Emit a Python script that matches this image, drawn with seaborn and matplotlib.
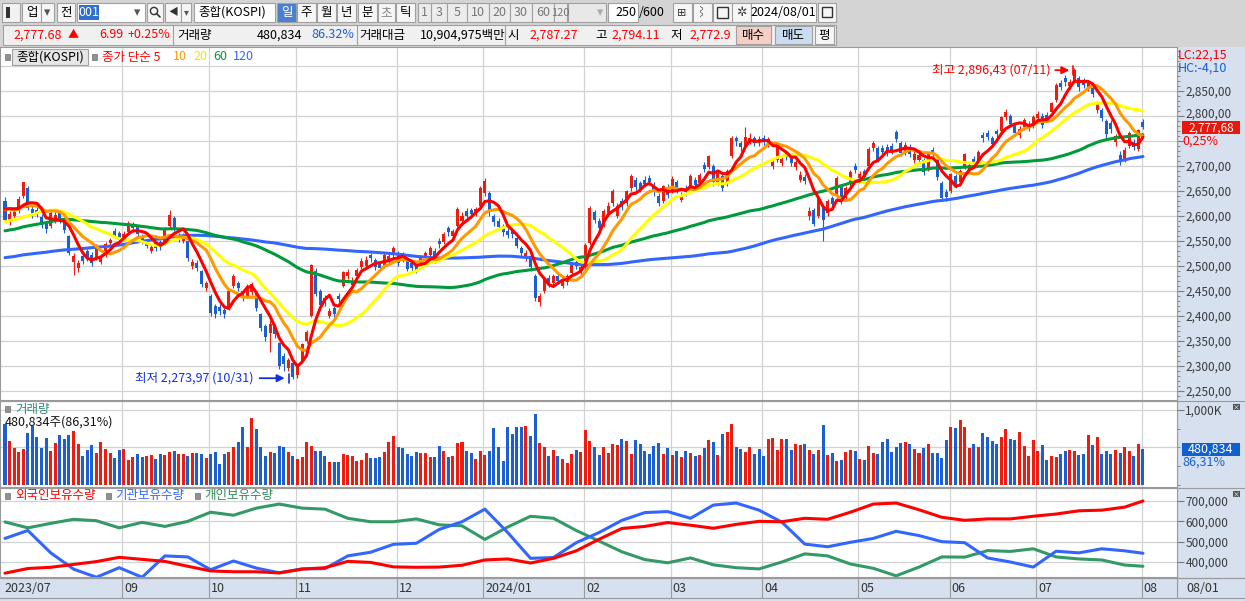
import numpy as np
import pandas as pd
import seaborn as sns
import matplotlib.pyplot as plt
from matplotlib.patches import Rectangle
from matplotlib.transforms import ScaledTranslation
from matplotlib.ticker import FixedLocator, MultipleLocator, FuncFormatter

# closes before the visible window, only used to warm up the 60/120 day averages
warmup_closes = [
    2450, 2469, 2480, 2438, 2452, 2484, 2482, 2469, 2453, 2466, 2428, 2475, 2451, 2455, 2459, 2418, 2439, 2424, 2403, 2413,
    2422, 2432, 2463, 2463, 2432, 2433, 2395, 2411, 2349, 2380, 2378, 2396, 2379, 2388, 2417, 2424, 2415, 2400, 2434, 2444, 2453, 2477,
    2481, 2495, 2495, 2490, 2491, 2512, 2548, 2551, 2550, 2571, 2576, 2572, 2575, 2563, 2544, 2524, 2489, 2485, 2496, 2502,
    2524, 2501, 2501, 2509, 2510, 2497, 2491, 2475, 2479, 2480, 2495, 2515, 2538, 2557, 2566, 2567, 2555, 2559, 2586, 2577,
    2569, 2601, 2615, 2616, 2610, 2641, 2629, 2638, 2619, 2609, 2626, 2610, 2605, 2583, 2581, 2570, 2582, 2582, 2564, 2550, 2564,
    2602, 2593, 2579, 2556, 2527, 2521, 2562, 2575, 2592, 2628, 2619, 2608, 2608, 2600, 2610, 2629, 2636,
]

# daily candles 2023/07/26 .. 2024/08/01 (250 sessions)
closes = [
    2592, 2604, 2608, 2633, 2667, 2616, 2605, 2603, 2581, 2574,
    2605, 2602, 2591, 2571, 2526, 2520, 2505, 2509, 2516, 2506,
    2538, 2519, 2543, 2552, 2561, 2556, 2564, 2585, 2582, 2563,
    2548, 2548, 2537, 2535, 2537, 2573, 2601, 2575, 2559, 2560,
    2515, 2508, 2496, 2463, 2465, 2406, 2404, 2409, 2403, 2450,
    2480, 2456, 2436, 2460, 2463, 2416, 2375, 2357, 2384, 2363,
    2299, 2303, 2311, 2278, 2302, 2343, 2368, 2502, 2444, 2422,
    2427, 2410, 2404, 2433, 2487, 2488, 2470, 2491, 2510, 2512,
    2515, 2497, 2496, 2522, 2520, 2535, 2505, 2515, 2494, 2495,
    2492, 2518, 2525, 2535, 2511, 2544, 2564, 2567, 2569, 2614,
    2600, 2600, 2603, 2614, 2655, 2670, 2607, 2587, 2578, 2568,
    2561, 2563, 2540, 2525, 2526, 2498, 2436, 2440, 2473, 2464,
    2479, 2470, 2470, 2479, 2501, 2499, 2497, 2542, 2615, 2591,
    2576, 2610, 2620, 2650, 2620, 2618, 2649, 2680, 2658, 2653,
    2664, 2668, 2647, 2625, 2659, 2642, 2674, 2649, 2641, 2648,
    2680, 2661, 2682, 2694, 2719, 2667, 2686, 2656, 2690, 2755,
    2749, 2738, 2757, 2755, 2746, 2747, 2748, 2753, 2707, 2742,
    2714, 2718, 2705, 2707, 2682, 2670, 2610, 2584, 2635, 2592,
    2629, 2623, 2676, 2629, 2656, 2687, 2692, 2684, 2677, 2734,
    2745, 2712, 2728, 2727, 2730, 2753, 2725, 2742, 2724, 2723,
    2722, 2688, 2723, 2723, 2677, 2635, 2637, 2683, 2662, 2690,
    2723, 2701, 2705, 2728, 2755, 2758, 2744, 2764, 2797, 2808,
    2784, 2765, 2774, 2792, 2784, 2798, 2804, 2781, 2794, 2825,
    2862, 2858, 2867, 2868, 2891, 2857, 2861, 2866, 2844, 2824,
    2795, 2764, 2774, 2759, 2711, 2732, 2766, 2738, 2771, 2778,
]
opens = [
    2630, 2590, 2600, 2612, 2640, 2655, 2614, 2612, 2598, 2585,
    2580, 2590, 2608, 2590, 2560, 2508, 2495, 2520, 2530, 2522,
    2515, 2508, 2522, 2546, 2570, 2566, 2558, 2568, 2576, 2578,
    2560, 2540, 2530, 2545, 2548, 2545, 2580, 2596, 2552, 2550,
    2550, 2500, 2506, 2490, 2455, 2440, 2420, 2418, 2412, 2415,
    2460, 2466, 2450, 2440, 2448, 2446, 2404, 2380, 2365, 2378,
    2345, 2320, 2296, 2305, 2282, 2310, 2350, 2400, 2490, 2450,
    2436, 2400, 2415, 2440, 2460, 2480, 2462, 2480, 2498, 2500,
    2522, 2512, 2506, 2500, 2510, 2522, 2525, 2522, 2510, 2505,
    2500, 2500, 2516, 2522, 2530, 2550, 2548, 2575, 2560, 2580,
    2590, 2610, 2612, 2605, 2620, 2645, 2645, 2600, 2590, 2580,
    2570, 2570, 2555, 2535, 2515, 2520, 2480, 2428, 2450, 2476,
    2465, 2480, 2460, 2468, 2485, 2508, 2488, 2498, 2545, 2608,
    2590, 2582, 2605, 2625, 2600, 2630, 2625, 2655, 2672, 2665,
    2672, 2676, 2662, 2640, 2630, 2656, 2650, 2668, 2632, 2656,
    2652, 2672, 2665, 2702, 2698, 2700, 2668, 2680, 2665, 2720,
    2756, 2746, 2740, 2748, 2756, 2754, 2756, 2744, 2700, 2712,
    2705, 2726, 2716, 2698, 2672, 2678, 2600, 2612, 2600, 2620,
    2605, 2636, 2640, 2660, 2636, 2665, 2700, 2676, 2690, 2700,
    2736, 2735, 2736, 2738, 2740, 2768, 2745, 2728, 2738, 2712,
    2712, 2712, 2695, 2732, 2712, 2665, 2648, 2650, 2680, 2668,
    2698, 2692, 2714, 2710, 2762, 2766, 2756, 2770, 2770, 2798,
    2800, 2780, 2762, 2778, 2776, 2780, 2796, 2800, 2802, 2808,
    2832, 2866, 2876, 2860, 2870, 2876, 2870, 2856, 2856, 2812,
    2812, 2790, 2786, 2748, 2722, 2714, 2740, 2748, 2734, 2787,
]
highs = [
    2638, 2610, 2615, 2640, 2668, 2660, 2620, 2618, 2604, 2590,
    2610, 2608, 2612, 2594, 2562, 2526, 2512, 2526, 2534, 2528,
    2544, 2524, 2548, 2556, 2575, 2570, 2570, 2590, 2588, 2582,
    2564, 2552, 2542, 2550, 2552, 2578, 2612, 2600, 2566, 2566,
    2552, 2514, 2512, 2492, 2470, 2444, 2424, 2424, 2416, 2454,
    2484, 2470, 2452, 2464, 2468, 2450, 2406, 2384, 2392, 2384,
    2348, 2326, 2316, 2310, 2306, 2346, 2372, 2504, 2496, 2454,
    2442, 2416, 2420, 2446, 2490, 2494, 2478, 2496, 2516, 2520,
    2526, 2516, 2510, 2526, 2528, 2540, 2530, 2528, 2514, 2510,
    2506, 2522, 2530, 2540, 2536, 2556, 2568, 2580, 2574, 2618,
    2608, 2616, 2616, 2618, 2660, 2676, 2650, 2604, 2596, 2584,
    2575, 2574, 2560, 2540, 2532, 2524, 2484, 2446, 2478, 2482,
    2484, 2486, 2476, 2484, 2506, 2512, 2502, 2546, 2620, 2612,
    2596, 2614, 2628, 2654, 2626, 2636, 2652, 2684, 2678, 2670,
    2680, 2682, 2668, 2646, 2662, 2664, 2680, 2672, 2648, 2662,
    2684, 2678, 2686, 2708, 2722, 2704, 2690, 2684, 2694, 2760,
    2760, 2750, 2778, 2766, 2760, 2760, 2762, 2758, 2716, 2746,
    2720, 2730, 2722, 2712, 2690, 2684, 2618, 2616, 2640, 2624,
    2634, 2640, 2680, 2664, 2660, 2692, 2706, 2690, 2694, 2738,
    2750, 2740, 2742, 2744, 2746, 2772, 2750, 2748, 2744, 2730,
    2728, 2716, 2728, 2738, 2716, 2670, 2654, 2686, 2684, 2694,
    2726, 2708, 2720, 2732, 2768, 2772, 2760, 2774, 2800, 2814,
    2804, 2784, 2780, 2796, 2790, 2802, 2810, 2806, 2808, 2828,
    2866, 2872, 2882, 2874, 2896, 2880, 2876, 2872, 2862, 2830,
    2816, 2794, 2792, 2764, 2730, 2738, 2770, 2754, 2774, 2794,
]
lows = [
    2588, 2582, 2594, 2606, 2636, 2612, 2596, 2598, 2575, 2566,
    2576, 2585, 2586, 2566, 2522, 2482, 2488, 2504, 2510, 2500,
    2512, 2504, 2518, 2540, 2556, 2550, 2552, 2565, 2570, 2558,
    2544, 2535, 2526, 2530, 2532, 2542, 2576, 2570, 2548, 2545,
    2510, 2494, 2490, 2458, 2450, 2400, 2396, 2402, 2396, 2412,
    2455, 2450, 2430, 2436, 2442, 2410, 2370, 2350, 2328, 2356,
    2294, 2290, 2290, 2274, 2276, 2306, 2345, 2398, 2440, 2418,
    2420, 2396, 2398, 2428, 2458, 2474, 2456, 2476, 2494, 2496,
    2508, 2492, 2490, 2496, 2505, 2516, 2500, 2508, 2490, 2490,
    2486, 2496, 2512, 2518, 2506, 2536, 2544, 2560, 2555, 2576,
    2585, 2594, 2596, 2600, 2616, 2640, 2600, 2580, 2572, 2560,
    2555, 2556, 2535, 2520, 2510, 2490, 2430, 2420, 2446, 2458,
    2460, 2464, 2455, 2462, 2480, 2494, 2482, 2494, 2542, 2586,
    2570, 2578, 2600, 2620, 2595, 2612, 2620, 2650, 2652, 2648,
    2658, 2662, 2640, 2620, 2626, 2636, 2646, 2645, 2628, 2640,
    2650, 2655, 2660, 2688, 2694, 2660, 2662, 2650, 2660, 2716,
    2740, 2730, 2736, 2744, 2740, 2740, 2742, 2738, 2694, 2708,
    2700, 2712, 2700, 2692, 2668, 2664, 2592, 2580, 2596, 2550,
    2600, 2618, 2636, 2624, 2630, 2660, 2686, 2670, 2672, 2696,
    2730, 2708, 2720, 2720, 2724, 2748, 2720, 2722, 2718, 2706,
    2706, 2682, 2690, 2716, 2672, 2630, 2630, 2645, 2656, 2664,
    2694, 2688, 2700, 2706, 2748, 2752, 2738, 2756, 2766, 2792,
    2778, 2760, 2756, 2772, 2770, 2776, 2790, 2776, 2788, 2804,
    2828, 2852, 2860, 2854, 2866, 2850, 2856, 2850, 2838, 2806,
    2790, 2754, 2766, 2740, 2702, 2708, 2736, 2732, 2730, 2773,
]
volume_k = [
    810, 585, 490, 440, 480, 690, 785, 640, 490, 625,
    450, 560, 665, 615, 665, 720, 545, 385, 465, 530,
    425, 570, 480, 425, 360, 465, 480, 330, 370, 410,
    370, 385, 400, 345, 410, 400, 440, 450, 410, 410,
    385, 425, 425, 410, 360, 410, 440, 280, 410, 440,
    505, 570, 770, 505, 890, 745, 505, 385, 440, 425,
    520, 505, 440, 385, 345, 370, 570, 520, 450, 450,
    385, 305, 305, 305, 410, 400, 385, 320, 330, 425,
    360, 360, 370, 440, 570, 650, 505, 490, 410, 385,
    440, 425, 425, 370, 370, 520, 450, 370, 385, 560,
    570, 450, 425, 345, 450, 400, 450, 760, 505, 320,
    770, 680, 770, 770, 785, 650, 945, 560, 505, 385,
    465, 385, 345, 290, 410, 465, 440, 730, 585, 505,
    400, 505, 425, 545, 530, 610, 585, 410, 600, 545,
    450, 410, 520, 560, 410, 490, 400, 450, 370, 450,
    425, 385, 400, 490, 600, 570, 400, 680, 705, 810,
    505, 480, 440, 505, 410, 480, 385, 610, 625, 465,
    610, 610, 465, 545, 530, 545, 465, 410, 465, 800,
    400, 425, 320, 330, 440, 465, 450, 345, 330, 520,
    425, 410, 570, 610, 440, 505, 560, 570, 545, 480,
    425, 490, 545, 425, 425, 360, 600, 770, 760, 865,
    770, 490, 545, 505, 690, 640, 585, 545, 640, 745,
    610, 600, 705, 520, 385, 600, 450, 530, 330, 385,
    370, 410, 450, 465, 450, 400, 410, 665, 530, 640,
    410, 450, 410, 465, 425, 505, 450, 385, 545, 481,
]

# holdings (thousand shares), read every 5th session
hold_idx = list(range(0, 250, 5)) + [249]
foreign_k = [345, 368, 374, 388, 402, 423, 413, 403, 379, 356, 352, 352, 346, 365, 372, 403, 398, 376, 374,
             375, 384, 410, 415, 395, 418, 455, 512, 565, 575, 594, 581, 566, 585, 600, 598, 615, 610,
             645, 685, 690, 657, 620, 605, 612, 612, 625, 636, 652, 655, 670, 700]
inst_k = [516, 555, 445, 365, 325, 372, 325, 430, 425, 362, 405, 370, 347, 366, 367, 430, 448, 487, 492,
          560, 598, 660, 545, 418, 422, 495, 545, 605, 643, 648, 615, 680, 690, 655, 596, 488, 475,
          497, 516, 551, 530, 500, 495, 420, 400, 375, 453, 445, 465, 455, 443]
indiv_k = [597, 568, 590, 610, 603, 568, 595, 575, 600, 645, 630, 665, 685, 665, 660, 615, 598, 598, 612,
           583, 578, 511, 572, 625, 615, 555, 503, 450, 412, 396, 420, 386, 372, 366, 400, 440, 430,
           390, 369, 332, 375, 425, 424, 456, 452, 465, 425, 415, 410, 385, 379]

month_idx = [0, 26, 45, 64, 86, 105, 127, 146, 166, 187, 207, 226, 249]
month_lbl = ['2023/07', '09', '10', '11', '12', '2024/01', '02', '03', '04', '05', '06', '07', '08']

ma_periods = [120, 60, 20, 10, 5]
ma_colors = {5: '#ff0000', 10: '#ff9900', 20: '#ffff00', 60: '#009a3a', 120: '#3366ff'}

high_note = '최고 2,896,43 (07/11)'
low_note = '최저 2,273,97 (10/31)'

RED, BLUE = '#ec1c10', '#1c5fd2'
GRID = '#d2d2d2'
PANEL = '#d6e0ee'

sns.set_style('white')
plt.rcParams['font.family'] = ['Noto Sans CJK KR', 'DejaVu Sans']

W, H = 1245, 601
fig = plt.figure(figsize=(W / 100, H / 100), dpi=100)


def frect(x0, y0, x1, y1):
    return [x0 / W, 1 - y1 / H, (x1 - x0) / W, (y1 - y0) / H]


def i_of(px):
    return (px - 5) / 4.57


# pixel overlays (background and foreground)
bg = fig.add_axes([0, 0, 1, 1])
bg.set_xlim(0, W); bg.set_ylim(H, 0); bg.set_axis_off(); bg.set_zorder(-5)

ax_p = fig.add_axes(frect(0, 47, 1177, 400))
ax_v = fig.add_axes(frect(0, 401, 1177, 487))
ax_h = fig.add_axes(frect(0, 488, 1177, 577))

fg = fig.add_axes([0, 0, 1, 1])
fg.set_xlim(0, W); fg.set_ylim(H, 0); fg.set_axis_off(); fg.set_zorder(10)


def box(a, x0, y0, x1, y1, fc, ec='#a0a0a0', lw=0.8):
    a.add_patch(Rectangle((x0, y0), x1 - x0, y1 - y0, facecolor=fc, edgecolor=ec, lw=lw))


def txt(a, x, y, s, color='#000000', size=9, ha='left', **kw):
    a.text(x, y, s, color=color, fontsize=size, ha=ha, va='center', **kw)


# ---- backgrounds ----
box(bg, 0, 0, W, 47, '#d4d4d4', ec='none')
box(bg, 1177, 47, W, 601, PANEL, ec='none')
box(bg, 0, 578, W, 601, PANEL, ec='none')
bg.plot([0, W], [578, 578], color='#9a9a9a', lw=0.8)
bg.plot([0, W], [598, 598], color='#9a9a9a', lw=0.8)

x = np.arange(len(closes))
o = np.array(opens, float); c = np.array(closes, float)
hi = np.array(highs, float); lo = np.array(lows, float)
col = np.where(c >= o, RED, BLUE)

all_c = pd.Series(warmup_closes + closes, dtype=float)
nw = len(warmup_closes)

xlim = (i_of(0), i_of(1177))
grid_i = [m - 0.3 for m in month_idx[1:]]

for a in (ax_p, ax_v, ax_h):
    a.set_xlim(*xlim)
    a.set_facecolor('white')
    for s in a.spines.values():
        s.set_color('#9a9a9a'); s.set_linewidth(0.8)
    a.set_xticks([])
    a.yaxis.tick_right()
    a.tick_params(axis='y', which='major', length=5, width=0.8, color='#7a7a7a',
                  labelsize=8.5, labelcolor='#3a3a3a', pad=1)
    a.tick_params(axis='y', which='minor', length=2.5, width=0.6, color='#7a7a7a')
    for g in grid_i:
        a.axvline(g, color=GRID, lw=0.9, zorder=0)

# ---- price panel ----
ax_p.set_ylim(2231.4, 2937.4)
ax_p.yaxis.set_major_locator(FixedLocator(np.arange(2250, 2851, 50)))
ax_p.yaxis.set_minor_locator(MultipleLocator(10))
# the 2,750 label sits under the change-rate text, as on the reference
ax_p.yaxis.set_major_formatter(FuncFormatter(lambda v, _: '' if round(v) == 2750 else f'{v:,.0f},00'))
for lv in np.arange(2250, 2901, 50):
    ax_p.axhline(lv, color=GRID, lw=0.9, zorder=0)

ax_p.vlines(x, lo, hi, colors=col, lw=0.8, zorder=3)
ax_p.bar(x, np.maximum(np.abs(c - o), 2), bottom=np.minimum(o, c), width=0.66,
         color=col, lw=0, zorder=3)

for p in ma_periods:
    ma = all_c.rolling(p, min_periods=1).mean().to_numpy()[nw:]
    sns.lineplot(x=x, y=ma, ax=ax_p, color=ma_colors[p], lw=2.2, zorder=4)
ax_p.set_xlabel(''); ax_p.set_ylabel('')

imax = int(np.argmax(hi)); imin = int(np.argmin(lo))
yt = 2891
ax_p.text(imax - 5.2, yt, high_note, color='#ff0000', fontsize=9, ha='right', va='center', zorder=6)
ax_p.annotate('', xy=(imax - 0.5, yt), xytext=(imax - 4.8, yt),
              arrowprops=dict(arrowstyle='-|>', color='#ff0000', lw=1.3, mutation_scale=11), zorder=6)
ax_p.plot([imax - 0.4, imax - 0.4], [yt - 9, yt + 9], color='#ff0000', lw=1.2, zorder=6)
yb = 2275
ax_p.text(imin - 8.6, yb, low_note, color='#1030e0', fontsize=9, ha='right', va='center', zorder=6)
ax_p.annotate('', xy=(imin - 1.2, yb), xytext=(imin - 7.9, yb),
              arrowprops=dict(arrowstyle='-|>', color='#1030e0', lw=1.3, mutation_scale=11), zorder=6)
ax_p.plot([imin - 0.9, imin - 0.9], [yb - 9, yb + 9], color='#1030e0', lw=1.2, zorder=6)

# ---- volume panel ----
ax_v.set_ylim(-26.7, 1120)
ax_v.bar(x, volume_k, width=0.66, color=col, lw=0, zorder=3)
ax_v.yaxis.set_major_locator(FixedLocator([1000]))
ax_v.yaxis.set_minor_locator(FixedLocator([0, 250, 500, 750]))
ax_v.yaxis.set_major_formatter(FuncFormatter(lambda v, _: f'{v:,.0f}K'))
for lv in (500, 1000):
    ax_v.axhline(lv, color=GRID, lw=0.9, zorder=0)

# ---- holdings panel ----
ax_h.set_ylim(326.2, 764)
for lv in (400, 500, 600, 700):
    ax_h.axhline(lv, color=GRID, lw=0.9, zorder=0)
sns.lineplot(x=hold_idx, y=indiv_k, ax=ax_h, color='#339966', lw=2.2, zorder=3)
sns.lineplot(x=hold_idx, y=inst_k, ax=ax_h, color='#3366ff', lw=2.2, zorder=3)
sns.lineplot(x=hold_idx, y=foreign_k, ax=ax_h, color='#ff0000', lw=2.2, zorder=3)
ax_h.yaxis.set_major_locator(FixedLocator([400, 500, 600, 700]))
ax_h.yaxis.set_major_formatter(FuncFormatter(lambda v, _: f'{v * 1000:,.0f}'))
ax_h.set_xlabel(''); ax_h.set_ylabel('')

# ---- bottom date band ----
for g, lbl in zip(month_idx, month_lbl):
    gx = 5 + 4.57 * (g - 0.3)
    if g == 0:
        txt(bg, 4, 589, lbl, color='#333333', size=9)
        continue
    bg.plot([gx, gx], [578, 598], color='#9a9a9a', lw=0.8)
    txt(bg, gx + 2, 589, lbl, color='#333333', size=9)
bg.plot([1177, 1177], [47, 598], color='#9a9a9a', lw=0.8)
txt(bg, 1186, 589, '08/01', color='#333333', size=9)

# ---- panel headers ----
fg.add_patch(Rectangle((5, 54), 5, 6, facecolor='#909090', edgecolor='#707070', lw=0.5))
box(fg, 12, 49, 88, 65, '#e6e6e6')
txt(fg, 50, 57, '종합(KOSPI)', ha='center')
fg.add_patch(Rectangle((92, 54), 5, 6, facecolor='#909090', edgecolor='#707070', lw=0.5))
txt(fg, 102, 57, '종가 단순 5', color='#ff0000')
txt(fg, 173, 57, '10', color='#ff9900')
txt(fg, 193, 57, '20', color='#e8e800')
txt(fg, 213, 57, '60', color='#009a3a')
txt(fg, 233, 57, '120', color='#3366ff')

fg.add_patch(Rectangle((5, 406), 5, 6, facecolor='#909090', edgecolor='#707070', lw=0.5))
txt(fg, 15, 409, '거래량', color='#2e8b7a')
txt(fg, 5, 422, '480,834주(86,31%)', color='#111111')

fg.add_patch(Rectangle((5, 493), 5, 6, facecolor='#909090', edgecolor='#707070', lw=0.5))
txt(fg, 15, 496, '외국인보유수량', color='#ff0000')
fg.add_patch(Rectangle((106, 493), 5, 6, facecolor='#909090', edgecolor='#707070', lw=0.5))
txt(fg, 115, 496, '기관보유수량', color='#3366ff')
fg.add_patch(Rectangle((195, 493), 5, 6, facecolor='#909090', edgecolor='#707070', lw=0.5))
txt(fg, 204, 496, '개인보유수량', color='#2e8b57')

# ---- right band extras ----
txt(fg, 1178, 55, 'LC:22,15', color='#ff0000', size=9)
txt(fg, 1178, 68, 'HC:-4,10', color='#1a5fd0', size=9)
box(fg, 1182, 121, 1240, 134, '#e8180c', ec='none')
txt(fg, 1211, 128, '2,777,68', color='white', size=8.5, ha='center')
txt(fg, 1182, 141, '0,25%', color='#ff0000', size=9)
box(fg, 1182, 443, 1240, 456, '#1060d0', ec='none')
txt(fg, 1211, 449.5, '480,834', color='white', size=9, ha='center')
txt(fg, 1182, 462, '86,31%', color='#1a5fd0', size=9)
for yy in (404, 491):
    box(fg, 1233, yy, 1240, yy + 6, '#555555', ec='none')
    txt(fg, 1236.5, yy + 3, '×', color='white', size=5, ha='center')
for yy in (400.5, 487.5, 577.5):
    fg.plot([0, W], [yy, yy], color='#9a9a9a', lw=0.8)

# ---- toolbar row ----
box(fg, 2, 3, 20, 22, '#f2f2f2')
box(fg, 6, 7, 10, 18, '#333333', ec='none')
box(fg, 22, 3, 41, 22, '#f6f6f6'); txt(fg, 31.5, 12.5, '업', ha='center')
box(fg, 41, 3, 54, 22, '#f6f6f6'); txt(fg, 47.5, 12.5, '▾', ha='center', color='#555555')
box(fg, 57, 3, 75, 22, '#f6f6f6'); txt(fg, 66, 12.5, '전', ha='center')
box(fg, 77, 3, 145, 22, 'white')
box(fg, 79, 5, 99, 20, '#2f6fd0', ec='none'); txt(fg, 89, 12.5, '001', ha='center', color='white')
txt(fg, 137, 12.5, '▾', ha='center', color='#555555')
box(fg, 147, 3, 163, 22, '#f6f6f6')
fg.add_patch(plt.Circle((154, 11), 3.6, fill=False, color='#333333', lw=1))
fg.plot([156.5, 160], [13.5, 17], color='#333333', lw=1.2)
box(fg, 165, 3, 181, 22, '#f6f6f6'); txt(fg, 173, 12.5, '◀', ha='center', size=7, color='#333333')
box(fg, 181, 3, 191, 22, '#f6f6f6'); txt(fg, 186, 12.5, '▾', ha='center', size=7, color='#555555')
box(fg, 194, 3, 275, 22, 'white'); txt(fg, 198, 12.5, '종합(KOSPI)')
for (x0, x1, s, fc, tc) in [(277, 296, '일', '#4b80cc', 'white'), (297, 316, '주', '#f6f6f6', 'black'),
                            (317, 336, '월', '#f6f6f6', 'black'), (337, 356, '년', '#f6f6f6', 'black'),
                            (358, 377, '분', '#f6f6f6', 'black'), (378, 395, '초', '#f6f6f6', '#888888'),
                            (396, 415, '틱', '#f6f6f6', 'black'), (418, 431, '1', '#ececec', '#777777'),
                            (431, 447, '3', '#ececec', '#777777'), (447, 467, '5', '#ececec', '#777777'),
                            (467, 489, '10', '#ececec', '#777777'), (489, 510, '20', '#ececec', '#777777'),
                            (510, 532, '30', '#ececec', '#777777'), (532, 554, '60', '#ececec', '#777777'),
                            (554, 567, '120', '#ececec', '#777777')]:
    box(fg, x0, 3, x1, 22, fc)
    txt(fg, (x0 + x1) / 2, 12.5, s, ha='center', color=tc, size=9 if len(s) < 3 else 8)
box(fg, 568, 3, 606, 22, '#e8e8e8'); txt(fg, 600, 12.5, '▾', ha='center', color='#aaaaaa')
box(fg, 608, 3, 638, 22, 'white'); txt(fg, 636, 12.5, '250', ha='right')
txt(fg, 639, 12.5, '/600')
for x0 in (673, 693, 713, 732):
    box(fg, x0, 3, x0 + 19, 22, '#f6f6f6')
txt(fg, 682, 12.5, '⊞', ha='center', size=8, color='#333333')
txt(fg, 702, 12.5, '⌇', ha='center', size=8, color='#333333')
box(fg, 717, 7, 728, 18, 'none', ec='#333333', lw=1)
txt(fg, 741, 12.5, '✲', ha='center', size=9, color='#444444')
box(fg, 751, 3, 816, 22, 'white'); txt(fg, 783.5, 12.5, '2024/08/01', ha='center')
box(fg, 818, 3, 836, 22, '#f6f6f6')
box(fg, 822, 7, 832, 17, 'none', ec='#333333', lw=1)

# ---- quote row ----
box(fg, 3, 25, 836, 45, '#f0f0f0')
txt(fg, 13, 35, '2,777.68', color='#ff0000')
txt(fg, 68, 35, '▲', color='#ff0000', size=8)
txt(fg, 123, 35, '6.99', color='#ff0000', ha='right')
txt(fg, 170, 35, '+0.25%', color='#ff0000', ha='right')
for sx in (173, 357, 505):
    fg.plot([sx, sx], [25, 45], color='#a0a0a0', lw=0.8)
txt(fg, 177, 35, '거래량')
txt(fg, 302, 35, '480,834', ha='right')
txt(fg, 354, 35, '86.32%', color='#1a5fd0', ha='right')
txt(fg, 359, 35, '거래대금')
txt(fg, 420, 35, '10,904,975백만')
txt(fg, 507, 35, '시')
txt(fg, 578, 35, '2,787.27', color='#ff0000', ha='right')
txt(fg, 595, 35, '고')
txt(fg, 660, 35, '2,794.11', color='#ff0000', ha='right')
txt(fg, 670, 35, '저')
txt(fg, 689, 35, '2,772.9', color='#ff0000')
box(fg, 736, 26, 771, 44, '#f5cfc6'); txt(fg, 753.5, 35, '매수', ha='center')
box(fg, 775, 26, 812, 44, '#c9dcf2'); txt(fg, 793.5, 35, '매도', ha='center')
box(fg, 815, 26, 834, 44, '#f6f6f6'); txt(fg, 824.5, 35, '평', ha='center')

# nudge the 2,800 label a little up so it clears the last-price tag
fig.canvas.draw()
for lbl in ax_p.get_yticklabels():
    if lbl.get_text() == '2,800,00':
        lbl.set_transform(lbl.get_transform() + ScaledTranslation(0, 2 / 72, fig.dpi_scale_trans))

fig.savefig('out.png', dpi=100)
